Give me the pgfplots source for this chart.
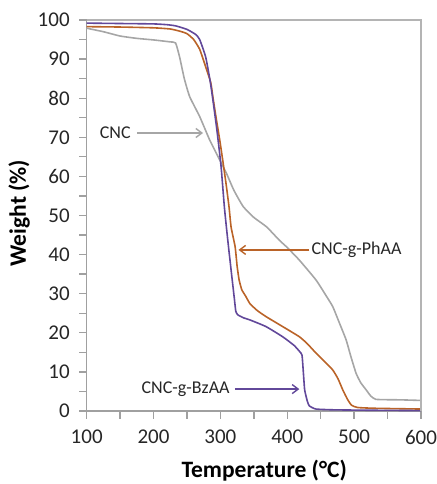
\documentclass[border=0pt]{standalone}
\usepackage{pgfplots}
\pgfplotsset{compat=1.18}
\usepackage{fontspec}
\setmainfont{Carlito}
\usetikzlibrary{arrows.meta}
\definecolor{cncgray}{HTML}{A6A6A6}
\definecolor{phaa}{HTML}{BA6328}
\definecolor{bzaa}{HTML}{62489A}
\definecolor{axgray}{HTML}{A0A0A0}
\definecolor{framegray}{HTML}{B4B4B4}
\begin{document}
\begin{tikzpicture}
\begin{axis}[
  scale only axis, width=334.3pt, height=391pt,
  xmin=100, xmax=600, ymin=0, ymax=100,
  xtick={100,200,...,600}, minor xtick={150,250,...,550},
  ytick={0,10,...,100}, minor ytick={5,15,...,95},
  xtick pos=bottom, ytick pos=left,
  tick align=outside, major tick length=7.5pt, minor tick length=7.5pt,
  every tick/.style={draw=axgray, line width=1.3pt},
  axis line style={draw=axgray, line width=1.4pt},
  /pgf/number format/assume math mode=true,
  tick label style={font=\fontsize{21}{25}\selectfont, text=black!85},
  xticklabel style={yshift=-8pt},
  yticklabel style={xshift=-6pt},
  xlabel={Temperature (°C)}, ylabel={Weight (\%)},
  label style={font=\fontsize{23.5}{28}\selectfont\bfseries},
  xlabel style={at={(axis description cs:0.531,-0.171)}, anchor=base},
  ylabel style={at={(axis description cs:-0.1816,0.506)}, anchor=base},
  every axis plot/.append style={line width=1.6pt, mark=none},
  clip=false,
]
\addplot[cncgray, smooth, tension=0.3] coordinates {
(100,97.9) (125,97.0) (150,95.9) (175,95.3) (200,94.9) (225,94.4) (233,94.1)
(239,90.5) (246,85) (254,80.4) (269,75.3) (284,69.3) (299,64.2) (309,60.8)
(320,56.5) (334,52.3) (350,49.5) (369,47.1) (388,43.7) (400,41.8) (418,38.6)
(443,33.5) (458,29.5) (468,26.7) (478,22.5) (488,18.2) (495,14) (503,9.6)
(510,7.2) (518,5.4) (525,3.8) (532,3.0) (545,2.9) (570,2.85) (600,2.7)};
\addplot[phaa, smooth, tension=0.3] coordinates {
(100,98.3) (150,98.2) (200,98.0) (225,97.7) (240,97.1) (250,96.5) (260,95)
(269,92.5) (278,88) (285.5,84) (289,80) (294,74.5) (299,69.3) (304,63.5)
(309,57.4) (313,52) (316,47) (322,42) (325,37) (328,33.5) (332,31) (338,29.3)
(344,27.5) (355,25.7) (368.6,24.1) (393,21.6) (418,19.0) (430,17.2) (443,14.8)
(455,12.8) (468,10.5) (476,8.2) (483,5.4) (490,3.0) (496,1.5) (505,0.9)
(530,0.7) (600,0.5)};
\addplot[bzaa, smooth, tension=0.3] coordinates {
(100,99.2) (150,99.1) (200,99.0) (220,98.8) (233,98.5) (250,97.6) (263,96.3)
(269,95) (278,90.5) (285,84) (290,78) (295,71.5) (301,62.5) (306,52) (311,43.7)
(316,36) (319,31.5) (321,28.5) (323,25.5) (326,24.6) (335,23.8) (344,23.3)
(368,21.6) (393,19.0) (410,16.8) (418,15.3) (422,14.3) (424,10) (426,5.4)
(430,2.5) (433,1.3) (443,0.5) (470,0.3) (520,0.2) (600,0.1)};
\draw[framegray, line width=1.3pt] (axis cs:100,100) -- (axis cs:600,100) -- (axis cs:600,0);
\draw[cncgray, line width=1.4pt, -{Straight Barb[length=6pt,width=9pt]}] (axis cs:175,71.1) -- (axis cs:274,71.1);
\node[anchor=mid east, inner sep=0pt, font=\fontsize{18}{22}\selectfont, text=black!85] at (axis cs:166,70.4) {CNC};
\draw[phaa, line width=1.4pt, -{Straight Barb[length=6pt,width=9pt]}] (axis cs:433,41.2) -- (axis cs:327,41.2);
\node[anchor=mid west, inner sep=0pt, font=\fontsize{18}{22}\selectfont, text=black!85] at (axis cs:436,40.6) {CNC-g-PhAA};
\draw[bzaa, line width=1.4pt, -{Straight Barb[length=6pt,width=9pt]}] (axis cs:321.6,5.6) -- (axis cs:418,5.6);
\node[anchor=mid east, inner sep=0pt, font=\fontsize{18}{22}\selectfont, text=black!85] at (axis cs:314,5.0) {CNC-g-BzAA};
\end{axis}
\pgfresetboundingbox
\path ([shift={(-86.7pt,-73pt)}]current axis.south west) rectangle ([shift={(16pt,20pt)}]current axis.north east);
\end{tikzpicture}
\end{document}
